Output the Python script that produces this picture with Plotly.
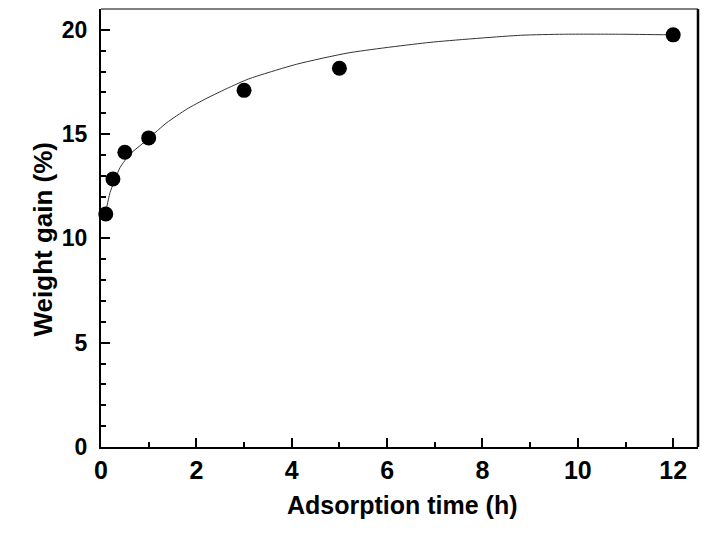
import plotly.graph_objects as go

# Measured data (adsorption time in h, weight gain in %)
time_h = [0.1, 0.25, 0.5, 1, 3, 5, 12]
weight_gain = [11.17, 12.85, 14.13, 14.82, 17.1, 18.16, 19.76]

# Fitted curve
fit_t = [0.1, 0.13, 0.19, 0.4, 0.61, 0.82, 1.0, 1.38, 1.8, 2.2, 2.7, 3.1, 4.1, 5.2, 6.9, 8.8, 9.7, 10.9, 12]
fit_y = [11.3, 11.6, 12.2, 13.4, 14.05, 14.45, 14.8, 15.55, 16.2, 16.7, 17.25, 17.65, 18.35, 18.9, 19.4, 19.74, 19.79, 19.79, 19.76]

x_ticks = [0, 2, 4, 6, 8, 10, 12]
y_ticks = [0, 5, 10, 15, 20]

FONT = "Liberation Sans, Arial, sans-serif"

fig = go.Figure()
fig.add_trace(go.Scatter(
    x=fit_t, y=fit_y, mode="lines",
    line=dict(color="#333333", width=1, shape="spline", smoothing=0.6),
    hoverinfo="skip", showlegend=False,
))
fig.add_trace(go.Scatter(
    x=time_h, y=weight_gain, mode="markers",
    marker=dict(color="black", size=15, line=dict(width=0)),
    cliponaxis=False, showlegend=False,
))

fig.update_layout(
    width=724, height=533,
    margin=dict(l=101, r=26, t=9, b=86),
    paper_bgcolor="white", plot_bgcolor="white",
    font=dict(family=FONT, color="black"),
    showlegend=False,
    xaxis=dict(
        range=[0, 12.52], showgrid=False, zeroline=False,
        showline=True, linecolor="black", linewidth=2, mirror=False,
        tickmode="array", tickvals=x_ticks, ticktext=[str(v) for v in x_ticks],
        ticks="inside", ticklen=9, tickwidth=1.5, tickcolor="black",
        tickfont=dict(family=FONT, size=25, color="black", weight="bold"),
        minor=dict(dtick=1, ticks="inside", ticklen=5, tickwidth=1.5, tickcolor="black", showgrid=False),
    ),
    yaxis=dict(
        range=[0, 21], showgrid=False, zeroline=False,
        showline=True, linecolor="black", linewidth=2, mirror=False,
        tickmode="array", tickvals=y_ticks, ticktext=[str(v) for v in y_ticks],
        ticks="inside", ticklen=9, tickwidth=1.5, tickcolor="black",
        ticklabelstandoff=7,
        tickfont=dict(family=FONT, size=23, color="black", weight="bold"),
        minor=dict(dtick=1, ticks="inside", ticklen=5, tickwidth=1.5, tickcolor="black", showgrid=False),
    ),
    shapes=[
        dict(type="line", xref="paper", yref="paper", x0=0, x1=1, y0=1, y1=1,
             line=dict(color="black", width=1)),
        dict(type="line", xref="paper", yref="paper", x0=1, x1=1, y0=0, y1=1,
             line=dict(color="black", width=2.5)),
    ],
    annotations=[
        dict(text="Adsorption time (h)", xref="paper", yref="paper",
             x=0.505, y=-0.132, xanchor="center", yanchor="middle", showarrow=False,
             font=dict(family=FONT, size=25, color="black", weight="bold")),
        dict(text="Weight gain (%)", xref="paper", yref="paper",
             x=-0.0972, y=0.476, xanchor="center", yanchor="middle", showarrow=False,
             textangle=-90,
             font=dict(family=FONT, size=26, color="black", weight="bold")),
    ],
)

fig.write_html("out.html")
